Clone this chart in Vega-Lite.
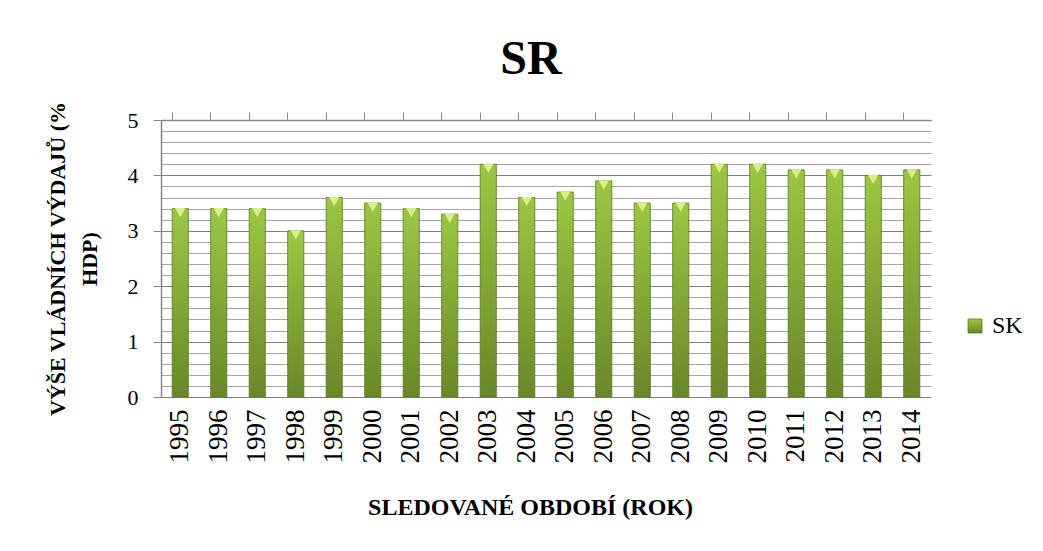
{
  "$schema": "https://vega.github.io/schema/vega-lite/v6.json",
  "autosize": "none",
  "width": 770,
  "height": 277,
  "padding": {"left": 161, "top": 120, "right": 112, "bottom": 154},
  "background": "white",
  "config": {
    "font": "'Liberation Serif', serif",
    "view": {"stroke": null},
    "axis": {"labelFont": "'Liberation Serif', serif", "titleFont": "'Liberation Serif', serif", "labelColor": "black", "titleColor": "black"},
    "legend": {"labelFont": "'Liberation Serif', serif"},
    "title": {"font": "'Liberation Serif', serif"}
  },
  "title": {
    "text": "SR",
    "fontSize": 48,
    "fontWeight": "bold",
    "color": "black",
    "anchor": "middle",
    "dx": -15,
    "offset": 17
  },
  "data": {
    "values": [
      {"year": "1995", "value": 3.4, "series": "SK"},
      {"year": "1996", "value": 3.4, "series": "SK"},
      {"year": "1997", "value": 3.4, "series": "SK"},
      {"year": "1998", "value": 3.0, "series": "SK"},
      {"year": "1999", "value": 3.6, "series": "SK"},
      {"year": "2000", "value": 3.5, "series": "SK"},
      {"year": "2001", "value": 3.4, "series": "SK"},
      {"year": "2002", "value": 3.3, "series": "SK"},
      {"year": "2003", "value": 4.2, "series": "SK"},
      {"year": "2004", "value": 3.6, "series": "SK"},
      {"year": "2005", "value": 3.7, "series": "SK"},
      {"year": "2006", "value": 3.9, "series": "SK"},
      {"year": "2007", "value": 3.5, "series": "SK"},
      {"year": "2008", "value": 3.5, "series": "SK"},
      {"year": "2009", "value": 4.2, "series": "SK"},
      {"year": "2010", "value": 4.2, "series": "SK"},
      {"year": "2011", "value": 4.1, "series": "SK"},
      {"year": "2012", "value": 4.1, "series": "SK"},
      {"year": "2013", "value": 4.0, "series": "SK"},
      {"year": "2014", "value": 4.1, "series": "SK"}
    ]
  },
  "resolve": {"axis": {"y": "independent", "x": "independent"}},
  "layer": [
    {
      "mark": {
        "type": "bar", "strokeWidth": 0.8,
        "fill": {"gradient": "linear", "x1": 0, "y1": 0, "x2": 0, "y2": 1, "stops": [{"offset": 0, "color": "#9cc743"}, {"offset": 1, "color": "#688828"}]}
      },
      "encoding": {
        "x": {
          "field": "year", "type": "nominal",
          "scale": {"paddingInner": 0.58, "paddingOuter": 0.29},
          "axis": {
            "title": "SLEDOVANÉ OBDOBÍ (ROK)",
            "titleFontSize": 24, "titleFontWeight": "bold", "titlePadding": 32, "titleX": 369,
            "labelAngle": -90, "labelFontSize": 27, "labelPadding": 12,
            "ticks": false, "domain": false, "grid": false
          }
        },
        "y": {
          "field": "value", "type": "quantitative",
          "scale": {"domain": [0, 5], "nice": false},
          "axis": {
            "title": ["VÝŠE VLÁDNÍCH VÝDAJŮ (%", "HDP)"],
            "titleFontSize": 22, "titleFontWeight": "bold", "titleLineHeight": 32,
            "titlePadding": 26,
            "values": [0, 1, 2, 3, 4, 5],
            "labelFontSize": 22, "labelPadding": 15,
            "tickSize": 8, "tickColor": "#888888", "domainColor": "#888888", "domainWidth": 1.5,
            "grid": true, "gridColor": "#7f7f7f", "gridWidth": 1.2
          }
        },
        "stroke": {
          "field": "series", "type": "nominal",
          "scale": {"range": ["#5b7822"]},
          "legend": {
            "title": null, "orient": "none", "legendX": 802, "legendY": 194,
            "symbolType": "square", "symbolSize": 196, "symbolFillColor": "#8db33a", "symbolStrokeWidth": 0.8,
            "labelFontSize": 24, "labelColor": "black", "labelOffset": 5
          }
        }
      }
    },
    {
      "mark": {"type": "point", "shape": "triangle-down", "filled": true, "fill": "#d8ef8c", "opacity": 1, "size": 110, "yOffset": 4},
      "encoding": {
        "x": {
          "field": "year", "type": "nominal",
          "axis": {"title": null, "labels": false, "bandPosition": 0, "tickSize": 8, "tickColor": "#888888", "domainColor": "#888888", "domainWidth": 1.5, "grid": false}
        },
        "y": {
          "field": "value", "type": "quantitative",
          "axis": {
            "title": null, "labels": false, "ticks": false, "domain": false,
            "values": [0.2, 0.4, 0.6, 0.8, 1.2, 1.4, 1.6, 1.8, 2.2, 2.4, 2.6, 2.8, 3.2, 3.4, 3.6, 3.8, 4.2, 4.4, 4.6, 4.8],
            "grid": true, "gridColor": "#a6a6a6", "gridWidth": 1
          }
        }
      }
    }
  ]
}
